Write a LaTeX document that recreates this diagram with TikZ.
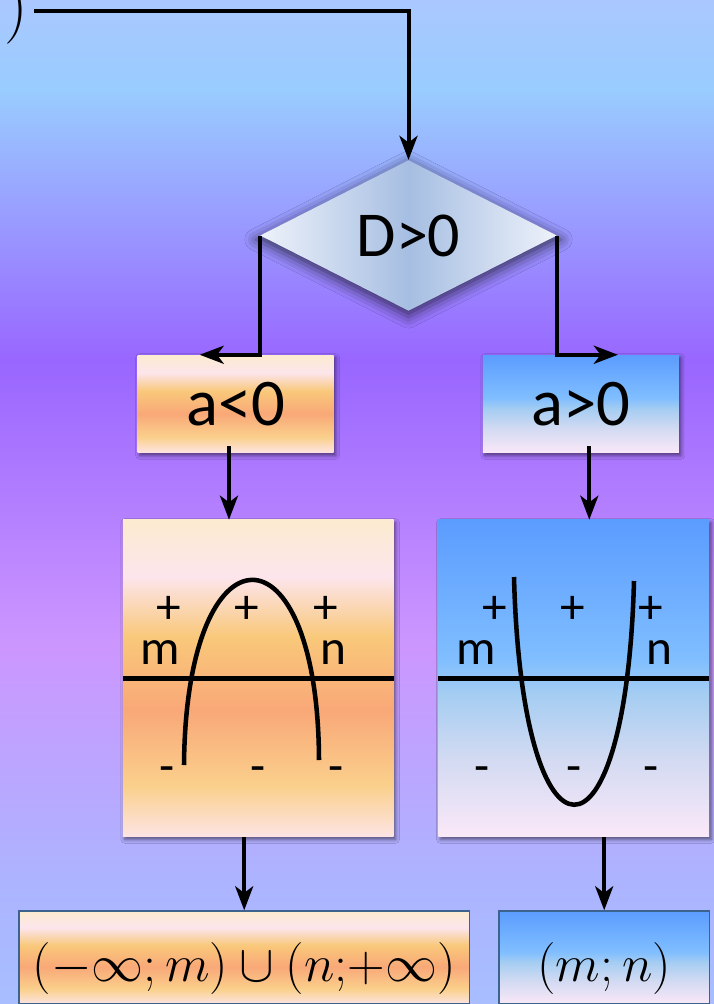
\RequirePackage{fix-cm}
\documentclass[tikz,border=0pt]{standalone}
\usepackage{fontspec}
\setsansfont{Carlito}
\usetikzlibrary{shapes.geometric,arrows.meta,shadows.blur,calc}

\definecolor{bgtop}{RGB}{170,200,255}
\definecolor{bgsky}{RGB}{153,204,255}
\definecolor{bgviolet}{RGB}{153,102,255}
\definecolor{bglilac}{RGB}{204,150,255}
\definecolor{bgpale}{RGB}{172,180,255}
\definecolor{bgbottom}{RGB}{168,190,255}
\definecolor{sunA}{RGB}{252,235,208}
\definecolor{sunB}{RGB}{252,229,236}
\definecolor{sunC}{RGB}{249,200,122}
\definecolor{sunD}{RGB}{249,168,120}
\definecolor{sunE}{RGB}{250,208,140}
\definecolor{sunF}{RGB}{253,228,228}
\definecolor{skyA}{RGB}{91,156,255}
\definecolor{skyB}{RGB}{128,190,255}
\definecolor{skyC}{RGB}{165,205,242}
\definecolor{skyD}{RGB}{210,218,242}
\definecolor{skyE}{RGB}{250,232,248}
\definecolor{glassedge}{RGB}{238,242,250}
\definecolor{glassmid}{RGB}{166,190,226}
\definecolor{resborder}{RGB}{60,98,142}

\pgfdeclareverticalshading{bgshade}{100bp}{color(0bp)=(bgbottom); color(25bp)=(bgbottom); color(31bp)=(bgpale); color(43bp)=(bglilac); color(57bp)=(bgviolet); color(70.5bp)=(bgsky); color(75bp)=(bgtop); color(100bp)=(bgtop)}
\pgfdeclareverticalshading{sunset}{100bp}{color(0bp)=(sunF); color(25bp)=(sunF); color(33bp)=(sunE); color(45bp)=(sunD); color(56.5bp)=(sunC); color(66bp)=(sunB); color(75bp)=(sunA); color(100bp)=(sunA)}
\pgfdeclareverticalshading{skyfall}{100bp}{color(0bp)=(skyE); color(25bp)=(skyE); color(37.5bp)=(skyD); color(47.5bp)=(skyC); color(53bp)=(skyB); color(75bp)=(skyA); color(100bp)=(skyA)}
\pgfdeclarehorizontalshading{glass}{100bp}{color(0bp)=(glassedge); color(25bp)=(glassedge); color(50bp)=(glassmid); color(75bp)=(glassedge); color(100bp)=(glassedge)}

\begin{document}
\begin{tikzpicture}[x=0.75pt,y=-0.75pt,
    box/.style={rectangle,inner sep=0pt,
      blur shadow={shadow xshift=1.5pt,shadow yshift=-2pt,shadow blur radius=3pt,shadow opacity=55}},
    sunbox/.style={box,shading=sunset},
    skybox/.style={box,shading=skyfall},
    cond/.style={font=\sffamily\fontsize{50}{54}\selectfont,minimum width=147pt,minimum height=73.3pt},
    plotbox/.style={minimum width=203pt,minimum height=237.5pt},
    resbox/.style={rectangle,inner sep=0pt,draw=resborder,line width=1.1pt,
      minimum height=69.75pt,text height=35.5pt,text depth=0pt,font=\fontsize{39}{42}\selectfont},
    sgn/.style={inner sep=0pt,font=\sffamily\fontsize{37}{40}\selectfont},
    wire/.style={line width=3pt},
    arr/.style={wire,-{Stealth[length=18pt,width=13.5pt,inset=5pt]}},
    axisline/.style={line width=3.6pt},
    parab/.style={line width=3.4pt}]

    % background
    \path[use as bounding box,shading=bgshade] (0,0) rectangle (714,1004);

    % start of the chart (cut off)
    \node[anchor=east,inner sep=0pt,inner xsep=4pt,font=\fontsize{50}{54}\selectfont] (start) at (34,11) {$)$};

    % condition D>0
    \node[diamond,aspect=2,shading=glass,inner sep=0pt,minimum width=222.5pt,minimum height=113pt,
      font=\sffamily\fontsize{48}{52}\selectfont,
      blur shadow={shadow xshift=0pt,shadow yshift=-3pt,shadow scale=1.03,shadow blur radius=8pt,shadow opacity=60}]
      (dia) at (408.5,235.5) {D>0};

    % a<0, a>0
    \node[sunbox,cond] (neg) at (235.7,403.9) {a<0};
    \node[skybox,cond] (pos) at (580.9,403.9) {a>0};

    % sign pictures
    \node[sunbox,plotbox] (lg) at (258.2,678.3) {};
    \node[skybox,plotbox] (rg) at (573.8,678.3) {};

    % answers
    \node[resbox,shading=sunset,minimum width=337.7pt] (res1) at (244.2,957.5) {$(-\infty; m)\cup(n{;}{+}\infty)$};
    \node[resbox,shading=skyfall,minimum width=157.7pt] (res2) at (604.2,957.5) {$(m;n)$};

    % connectors
    \coordinate (negin) at ($(neg.north)+(-36,0)$);
    \coordinate (posin) at ($(pos.north)+(37,0)$);
    \coordinate (negout) at ($(neg.south)+(-6.7,-7)$);
    \coordinate (posout) at ($(pos.south)+(8.4,-7)$);
    \draw[arr] (start.east) -| (dia.north);
    \draw[arr] (dia.west) |- (negin);
    \draw[arr] (dia.east) |- (posin);
    \draw[arr] (negout) -- (negout |- lg.north);
    \draw[arr] (posout) -- (posout |- rg.north);
    \draw[arr] (lg.south -| res1.north) -- (res1.north);
    \draw[arr] (rg.south -| res2.north) -- (res2.north);

    % a<0: branches down
    \draw[axisline] (lg.west) -- (lg.east);
    \draw[parab] (184,765) .. controls (186,519) and (318,519) .. (319,760);
    \foreach \x [count=\i] in {168.7,246.7,325.3}
        \node[sgn] (lp\i) at (\x,610) {+};
    \node[sgn] (lm) at (160.5,653) {m};
    \node[sgn] (ln) at (333.3,653) {n};
    \foreach \x [count=\i] in {166.7,258.3,336}
        \node[sgn] (lq\i) at (\x,775) {-};

    % a>0: branches up
    \draw[axisline] (rg.west) -- (rg.east);
    \draw[parab] (514,577) .. controls (522,880) and (626,880) .. (634,581);
    \foreach \x [count=\i] in {494.5,572.7,650.8}
        \node[sgn] (rp\i) at (\x,610) {+};
    \node[sgn] (rm) at (476.3,653) {m};
    \node[sgn] (rn) at (659.3,653) {n};
    \foreach \x [count=\i] in {481.8,573.7,651}
        \node[sgn] (rq\i) at (\x,775) {-};
\end{tikzpicture}
\end{document}
